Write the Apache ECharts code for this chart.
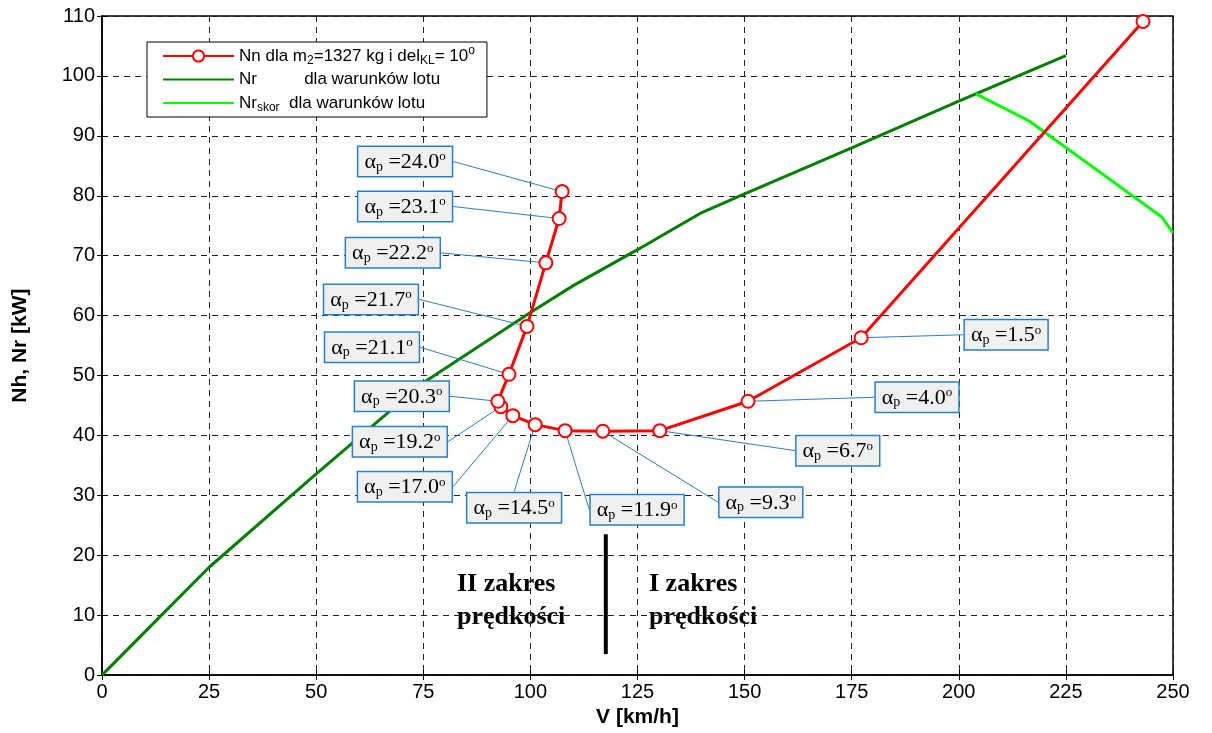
<!DOCTYPE html>
<html>
<head>
<meta charset="utf-8">
<script src="https://cdn.jsdelivr.net/npm/echarts@6/dist/echarts.min.js"></script>
<style>
html, body { margin: 0; padding: 0; background: #fff; }
#chart { width: 1212px; height: 733px; }
</style>
</head>
<body>
<div id="chart"></div>
<script>
// Nn dla m2=1327 kg – punkty krzywej (od najwiekszej predkosci)
const nnV = [243.0, 177.2, 150.8, 130.2, 116.9, 108.1, 101.1, 95.9, 93.1, 92.4, 95.0, 99.2, 103.6, 106.7, 107.4];
const nnN = [109.1, 56.3, 45.7, 40.8, 40.7, 40.8, 41.8, 43.3, 44.8, 45.7, 50.2, 58.2, 68.8, 76.2, 80.7];
const alphaP = [null, "1.5", "4.0", "6.7", "9.3", "11.9", "14.5", "17.0", "19.2", "20.3", "21.1", "21.7", "22.2", "23.1", "24.0"];

// Nr dla warunkow lotu
const nrV = [0, 12.5, 25, 50, 75, 100, 110, 125, 140, 150, 175, 200, 225];
const nrN = [0, 9, 18, 33.6, 48.8, 60.5, 65, 71, 77.2, 80.3, 88, 95.8, 103.4];

// Nr skor
const nrsV = [204, 216.6, 247.3, 250];
const nrsN = [97, 92.4, 76.5, 73.8];

// granica zakresow predkosci
const dividerV = [117.6, 117.6];
const dividerN = [3.5, 23.5];

const xTicks = { min: 0, max: 250, interval: 25 };
const yTicks = { min: 0, max: 110, interval: 10 };

// przesuniecia dymkow wzgledem punktu (px)
const labelOffsets = [
    [0, 0], [145, -3], [169, -4], [178, 20], [158, 71], [72, 79], [-21, 83],
    [-108, 71], [-101, 35], [-96, -5], [-137, -27], [-156, -27], [-153, -10],
    [-154, -12], [-157, -30]
];

const sans = "'Liberation Sans', Arial, sans-serif";
const serif = "'Liberation Serif', 'Times New Roman', serif";
const blue = "#2a7fc9";

function pairs(xs, ys) {
    return xs.map((v, i) => [v, ys[i]]);
}

const chart = echarts.init(document.getElementById("chart"));

const gridLine = { show: true, lineStyle: { color: "#222", type: [6, 5], width: 1 } };
const tickIn = { show: true, inside: true, length: 5, lineStyle: { color: "#000" } };

chart.setOption({
    animation: false,
    backgroundColor: "#fff",
    grid: {
        left: 102, right: 39, top: 16, bottom: 57,
        show: true, borderColor: "#000", borderWidth: 1.5, backgroundColor: "transparent"
    },
    legend: {
        data: [
            { name: "Nn" },
            { name: "Nr", itemStyle: { opacity: 0 } },
            { name: "Nrskor", itemStyle: { opacity: 0 } }
        ],
        orient: "vertical",
        left: 147,
        top: 42,
        padding: [3, 12, 3, 15],
        itemWidth: 71,
        itemHeight: 14,
        itemGap: 2.5,
        backgroundColor: "#fff",
        borderColor: "#000",
        borderWidth: 1,
        borderRadius: 0,
        formatter: function (name) {
            if (name === "Nn") return "Nn dla m{sub|2}=1327 kg i del{sub|KL}= 10{sup|o}";
            if (name === "Nr") return "Nr          dla warunków lotu";
            return "Nr{sub|skor}  dla warunków lotu";
        },
        textStyle: {
            fontFamily: sans,
            fontSize: 17,
            lineHeight: 20,
            color: "#000",
            rich: {
                sub: { fontFamily: sans, fontSize: 12, lineHeight: 10, padding: [10, 0, 0, 0], color: "#000" },
                sup: { fontFamily: sans, fontSize: 12, lineHeight: 10, padding: [0, 0, 10, 0], color: "#000" }
            }
        }
    },
    xAxis: [
        {
            type: "value",
            min: xTicks.min, max: xTicks.max, interval: xTicks.interval,
            name: "V [km/h]",
            nameLocation: "middle",
            nameGap: 30,
            nameTextStyle: { fontFamily: sans, fontWeight: "bold", fontSize: 21, color: "#000" },
            axisLine: { show: true, lineStyle: { color: "#000", width: 1.5 } },
            axisTick: tickIn,
            axisLabel: { color: "#000", fontFamily: sans, fontSize: 20, margin: 7 },
            splitLine: gridLine
        },
        {
            type: "value", position: "top",
            min: xTicks.min, max: xTicks.max, interval: xTicks.interval,
            axisLine: { show: false },
            axisTick: tickIn,
            axisLabel: { show: false },
            splitLine: { show: false }
        }
    ],
    yAxis: [
        {
            type: "value",
            min: yTicks.min, max: yTicks.max, interval: yTicks.interval,
            name: "Nh, Nr [kW]",
            nameLocation: "middle",
            nameGap: 71,
            nameTextStyle: { fontFamily: sans, fontWeight: "bold", fontSize: 21, color: "#000" },
            axisLine: { show: true, lineStyle: { color: "#000", width: 1.5 } },
            axisTick: tickIn,
            axisLabel: { color: "#000", fontFamily: sans, fontSize: 20, margin: 7 },
            splitLine: gridLine
        },
        {
            type: "value", position: "right",
            min: yTicks.min, max: yTicks.max, interval: yTicks.interval,
            axisLine: { show: false },
            axisTick: tickIn,
            axisLabel: { show: false },
            splitLine: { show: false }
        }
    ],
    series: [
        {
            name: "Nr",
            type: "line",
            data: pairs(nrV, nrN),
            showSymbol: false,
            symbol: "none",
            lineStyle: { color: "#007f00", width: 3 },
            itemStyle: { color: "#007f00" },
            z: 2
        },
        {
            name: "Nrskor",
            type: "line",
            data: pairs(nrsV, nrsN),
            showSymbol: false,
            symbol: "none",
            lineStyle: { color: "#00ff00", width: 3 },
            itemStyle: { color: "#00ff00" },
            z: 2
        },
        {
            name: "Nn",
            type: "line",
            data: nnV.map((v, i) => ({
                value: [v, nnN[i]],
                label: { show: alphaP[i] !== null }
            })),
            symbol: "emptyCircle",
            symbolSize: 13,
            lineStyle: { color: "#ff0000", width: 3 },
            itemStyle: { color: "#ff0000", borderWidth: 3 },
            label: {
                show: true,
                position: "inside",
                formatter: function (p) {
                    return "{a|α}{p|p}{a| =" + alphaP[p.dataIndex] + "}{o|o}";
                },
                backgroundColor: "#f0f0f0",
                borderColor: blue,
                borderWidth: 1.5,
                padding: [3, 6, 2, 6],
                rich: {
                    a: { fontFamily: serif, fontSize: 22, color: "#000" },
                    p: { fontFamily: serif, fontSize: 14, color: "#000", padding: [10, 0, 0, 0] },
                    o: { fontFamily: serif, fontSize: 13, color: "#000", padding: [0, 0, 10, 0] }
                }
            },
            labelLine: { show: true, lineStyle: { color: blue, width: 1 } },
            labelLayout: function (p) {
                const o = labelOffsets[p.dataIndex];
                return { dx: o[0], dy: o[1] };
            },
            z: 4
        },
        {
            name: "granica",
            type: "line",
            data: pairs(dividerV, dividerN),
            symbol: "none",
            silent: true,
            lineStyle: { color: "#000", width: 4 },
            z: 3
        }
    ],
    graphic: [
        {
            type: "text", left: 457, top: 568,
            style: { text: "II zakres\nprędkości", font: "bold 26px " + serif, fill: "#000", lineHeight: 33 }
        },
        {
            type: "text", left: 649, top: 568,
            style: { text: "I zakres\nprędkości", font: "bold 26px " + serif, fill: "#000", lineHeight: 33 }
        }
    ]
});
</script>
</body>
</html>
